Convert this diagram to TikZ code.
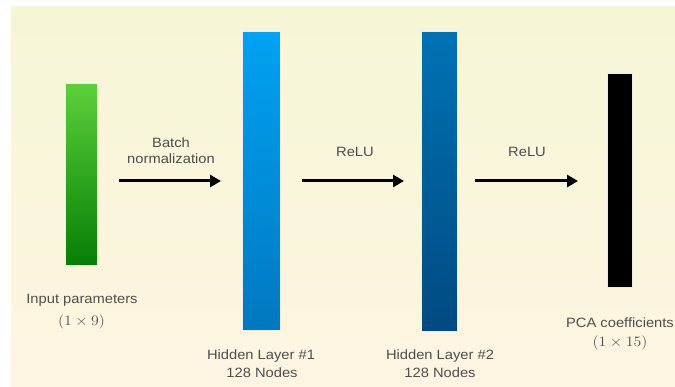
\documentclass[tikz,border=0pt]{standalone}
\usepackage{fontspec}
\setmainfont{Liberation Sans}
\usetikzlibrary{arrows.meta}
\definecolor{txtgray}{HTML}{4E4E4E}
\definecolor{bgA}{HTML}{F6F6D6}
\definecolor{bgB}{HTML}{FDF5E2}
\definecolor{gTop}{HTML}{5CD03C}
\definecolor{gBot}{HTML}{057E05}
\definecolor{b1Top}{HTML}{00A2F2}
\definecolor{b1Bot}{HTML}{0078C0}
\definecolor{b2Top}{HTML}{0072B4}
\definecolor{b2Bot}{HTML}{004A80}
\newcommand{\wtx}[1]{\scalebox{1.09}[1]{#1}}
\newcommand{\mtx}[1]{\scalebox{1.1}[1]{\fontsize{14.4}{17}\selectfont$#1$}}
\begin{document}
\begin{tikzpicture}[x=1pt,y=-1pt,
  bar/.style={rectangle, draw=white!85!gray, line width=0.6pt, inner sep=0pt, anchor=north west},
  lbl/.style={text=txtgray, font=\fontsize{13.5}{16}\selectfont, inner sep=0pt, align=center},
  arr/.style={line width=3pt, -{Triangle[length=11pt,width=12pt]}}]
\useasboundingbox (0,0) rectangle (675,387);
\fill[white] (0,0) rectangle (675,387);
\shade[left color=bgA, right color=bgB, shading angle=0] (11,7) rectangle (675,387);
% bars
\node[bar, top color=gTop, bottom color=gBot, minimum width=32pt, minimum height=182pt] (in) at (65,83) {};
\node[bar, top color=b1Top, bottom color=b1Bot, minimum width=38pt, minimum height=299pt] (h1) at (242,31) {};
\node[bar, top color=b2Top, bottom color=b2Bot, minimum width=36pt, minimum height=300pt] (h2) at (421,31) {};
\node[bar, fill=black, minimum width=25pt, minimum height=214pt] (out) at (607,73) {};
% arrows
\coordinate (a1s) at (119,181); \coordinate (a1e) at (221,181);
\coordinate (a2s) at (302,181); \coordinate (a2e) at (404,181);
\coordinate (a3s) at (475,181); \coordinate (a3e) at (578,181);
\draw[arr] (a1s) -- (a1e);
\draw[arr] (a2s) -- (a2e);
\draw[arr] (a3s) -- (a3e);
% arrow labels
\node[lbl] (l1a) at (171,143) {\wtx{Batch}};
\node[lbl] (l1b) at (171,159) {\wtx{normalization}};
\node[lbl] (l2) at (355,152) {\wtx{ReLU}};
\node[lbl] (l3) at (527,152) {\wtx{ReLU}};
% layer labels
\node[lbl] (t1) at (82,300) {\wtx{Input parameters}};
\node[lbl] (t1m) at (81.5,322) {\mtx{(1\times 9)}};
\node[lbl] (t2) at (261,356) {\wtx{Hidden Layer \#1}};
\node[lbl] (t2b) at (262,373) {\wtx{128 Nodes}};
\node[lbl] (t3) at (440,356) {\wtx{Hidden Layer \#2}};
\node[lbl] (t3b) at (440,373) {\wtx{128 Nodes}};
\node[lbl] (t4) at (620,323) {\wtx{PCA coefficients}};
\node[lbl] (t4m) at (620,343) {\mtx{(1\times 15)}};
\end{tikzpicture}
\end{document}
